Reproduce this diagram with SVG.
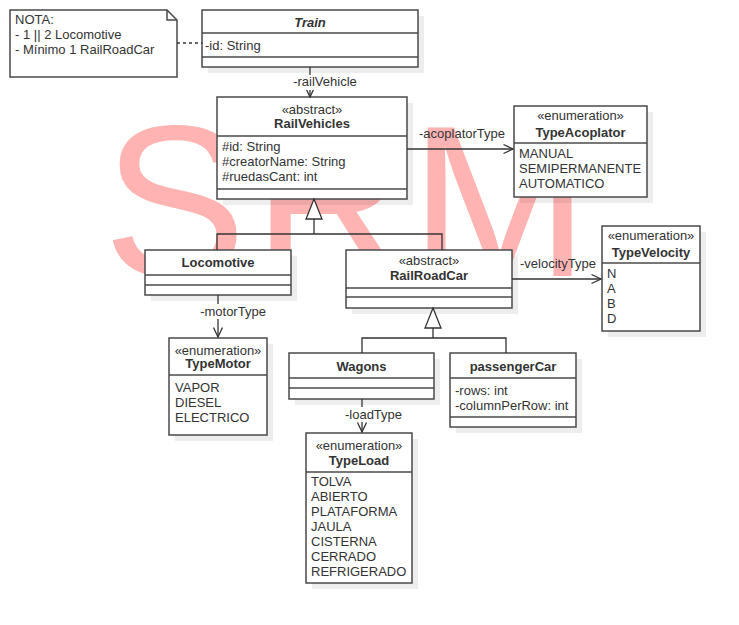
<svg xmlns="http://www.w3.org/2000/svg" width="739" height="625" viewBox="0 0 739 625">
<style>
.box{fill:#fff;stroke:#4a4a4a;stroke-width:1.5}
.sh{fill:#000;opacity:.07}
.sep{stroke:#4a4a4a;stroke-width:1.5;fill:none}
text{font-family:"Liberation Sans",Arial,Helvetica,sans-serif;font-size:13px;fill:#333}
.b{font-weight:bold}
.c{text-anchor:middle}
.ln{fill:none;stroke:#333;stroke-width:1.3}
.lbl{fill:#fff}
.wm{font-size:215px;fill:#ffb3b3}
</style>
<defs>
<marker id="open" markerWidth="12" markerHeight="12" refX="10" refY="5" orient="auto" markerUnits="userSpaceOnUse" viewBox="0 0 12 10">
<path d="M0.5,0.5 L10,5 L0.5,9.5" fill="none" stroke="#333" stroke-width="1.3"/>
</marker>
<marker id="tri" markerWidth="22" markerHeight="18" refX="20.5" refY="9" orient="auto" markerUnits="userSpaceOnUse" viewBox="0 0 22 18">
<path d="M20.5,9 L0.5,1 L0.5,17 Z" fill="#fff" stroke="#333" stroke-width="1.3"/>
</marker>
</defs>

<text class="wm" x="103 253 410" y="276">SRM</text>

<g id="note">
<path d="M10,10 H167 L177,20 V77 H10 Z" class="box"/>
<path d="M167,10 V20 H177" class="sep"/>
<text x="15" y="24">NOTA:</text>
<text x="15" y="39">- 1 || 2 Locomotive</text>
<text x="15" y="54">- Mínimo 1 RailRoadCar</text>
</g>

<g id="Train">
<rect x="208" y="16" width="216" height="57" class="sh"/>
<rect x="202" y="10" width="216" height="57" class="box"/>
<path d="M202,33 H418 M202,57 H418" class="sep"/>
<text x="310" y="27" class="b c" font-style="italic">Train</text>
<text x="205" y="49.5">-id: String</text>
</g>

<g id="RailVehicles">
<rect x="223" y="103" width="190" height="102" class="sh"/>
<rect x="217" y="97" width="190" height="102" class="box"/>
<path d="M217,136 H407 M217,189 H407" class="sep"/>
<text x="312" y="113.5" class="c">«abstract»</text>
<text x="312" y="128" class="b c">RailVehicles</text>
<text x="222" y="151">#id: String</text>
<text x="222" y="166">#creatorName: String</text>
<text x="222" y="181">#ruedasCant: int</text>
</g>

<g id="TypeAcoplator">
<rect x="520" y="112" width="133" height="91" class="sh"/>
<rect x="514" y="106" width="133" height="91" class="box"/>
<path d="M514,143 H647" class="sep"/>
<text x="580.5" y="120" class="c">«enumeration»</text>
<text x="580.5" y="137" class="b c">TypeAcoplator</text>
<text x="519" y="158">MANUAL</text>
<text x="519" y="173">SEMIPERMANENTE</text>
<text x="519" y="188">AUTOMATICO</text>
</g>

<g id="TypeVelocity">
<rect x="608" y="232" width="98" height="105" class="sh"/>
<rect x="602" y="226" width="98" height="105" class="box"/>
<path d="M602,263 H700" class="sep"/>
<text x="651" y="240" class="c">«enumeration»</text>
<text x="651" y="257" class="b c">TypeVelocity</text>
<text x="607" y="278">N</text>
<text x="607" y="293">A</text>
<text x="607" y="308">B</text>
<text x="607" y="323">D</text>
</g>

<g id="Locomotive">
<rect x="151" y="256" width="146" height="45" class="sh"/>
<rect x="145" y="250" width="146" height="45" class="box"/>
<path d="M145,275 H291 M145,285 H291" class="sep"/>
<text x="218" y="267" class="b c">Locomotive</text>
</g>

<g id="RailRoadCar">
<rect x="352" y="256" width="166" height="58" class="sh"/>
<rect x="346" y="250" width="166" height="58" class="box"/>
<path d="M346,288 H512 M346,297 H512" class="sep"/>
<text x="429" y="265" class="c">«abstract»</text>
<text x="429" y="279.5" class="b c">RailRoadCar</text>
</g>

<g id="TypeMotor">
<rect x="175" y="344" width="98" height="97" class="sh"/>
<rect x="169" y="338" width="98" height="97" class="box"/>
<path d="M169,375 H267" class="sep"/>
<text x="218" y="354.5" class="c">«enumeration»</text>
<text x="218" y="368" class="b c">TypeMotor</text>
<text x="175" y="391.5">VAPOR</text>
<text x="175" y="406.5">DIESEL</text>
<text x="175" y="421.5">ELECTRICO</text>
</g>

<g id="Wagons">
<rect x="295" y="359" width="145" height="46" class="sh"/>
<rect x="289" y="353" width="145" height="46" class="box"/>
<path d="M289,378 H434 M289,388 H434" class="sep"/>
<text x="361.5" y="371" class="b c">Wagons</text>
</g>

<g id="passengerCar">
<rect x="456" y="359" width="126" height="74" class="sh"/>
<rect x="450" y="353" width="126" height="74" class="box"/>
<path d="M450,378 H576 M450,417 H576" class="sep"/>
<text x="513" y="371" class="b c">passengerCar</text>
<text x="455" y="394.5">-rows: int</text>
<text x="455" y="409.5">-columnPerRow: int</text>
</g>

<g id="TypeLoad">
<rect x="312" y="439" width="106" height="150" class="sh"/>
<rect x="306" y="433" width="106" height="150" class="box"/>
<path d="M306,472 H412" class="sep"/>
<text x="359" y="449.5" class="c">«enumeration»</text>
<text x="359" y="464.5" class="b c">TypeLoad</text>
<text x="311" y="486">TOLVA</text>
<text x="311" y="501">ABIERTO</text>
<text x="311" y="516">PLATAFORMA</text>
<text x="311" y="531">JAULA</text>
<text x="311" y="546">CISTERNA</text>
<text x="311" y="561">CERRADO</text>
<text x="311" y="576">REFRIGERADO</text>
</g>

<g id="connectors">
<path d="M177,43 H202" class="ln" stroke-dasharray="3 3"/>
<path d="M310,67 V97" class="ln" marker-end="url(#open)"/>
<rect x="292" y="75" width="66" height="15" class="lbl"/>
<text x="325" y="86" class="c">-railVehicle</text>
<path d="M407,149 H513" class="ln" marker-end="url(#open)"/>
<text x="419" y="138">-acoplatorType</text>
<path d="M512,279 H601" class="ln" marker-end="url(#open)"/>
<text x="520" y="268">-velocityType</text>
<path d="M218,295 V337" class="ln" marker-end="url(#open)"/>
<rect x="199" y="304" width="69" height="15" class="lbl"/>
<text x="233" y="315.5" class="c">-motorType</text>
<path d="M362,399 V432" class="ln" marker-end="url(#open)"/>
<rect x="344" y="407" width="60" height="15" class="lbl"/>
<text x="373.5" y="418.5" class="c">-loadType</text>
<path d="M217,250 V234 H442 V250" class="ln"/>
<path d="M314,234 V199" class="ln" marker-end="url(#tri)"/>
<path d="M362,353 V338 H506 V353" class="ln"/>
<path d="M433,338 V308" class="ln" marker-end="url(#tri)"/>
</g>
</svg>
